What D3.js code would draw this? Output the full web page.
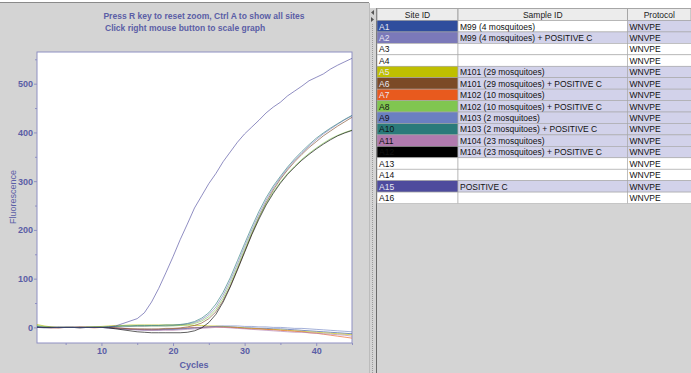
<!DOCTYPE html>
<html>
<head>
<meta charset="utf-8">
<script src="https://cdn.jsdelivr.net/npm/d3@7"></script>
<style>
  body { margin: 0; background: #fff; }
  svg { display: block; font-family: "Liberation Sans", Arial, sans-serif; }
</style>
</head>
<body>
<div id="chart"></div>
<script>
// amplification data
const cycles = [1,2,3,4,5,6,7,8,9,10,11,12,13,14,15,16,17,18,19,20,21,22,23,24,25,26,27,28,29,30,31,32,33,34,35,36,37,38,39,40,41,42,43,44,45];

const siteIds = ["A1","A2","A3","A4","A5","A6","A7","A8","A9","A10","A11","A12","A13","A14","A15","A16"];
const sampleIds = ["M99 (4 mosquitoes)", "M99 (4 mosquitoes) + POSITIVE C", "", "",
  "M101 (29 mosquitoes)", "M101 (29 mosquitoes) + POSITIVE C", "M102 (10 mosquitoes)",
  "M102 (10 mosquitoes) + POSITIVE C", "M103 (2 mosquitoes)", "M103 (2 mosquitoes) + POSITIVE C",
  "M104 (23 mosquitoes)", "M104 (23 mosquitoes) + POSITIVE C", "", "", "POSITIVE C", ""];
const protocols = ["WNVPE","WNVPE","WNVPE","WNVPE","WNVPE","WNVPE","WNVPE","WNVPE","WNVPE","WNVPE","WNVPE","WNVPE","WNVPE","WNVPE","WNVPE","WNVPE"];
const siteColors = ["#2f4d9d","#7b79b9","#ffffff","#ffffff","#bfbf00","#7b4a26","#e85a1e","#80c650","#6b7fc1","#2a7a7a","#b07aae","#000000","#ffffff","#ffffff","#4e4b9d","#ffffff"];

// fluorescence per cycle, one array per well (wells without sample draw nothing)
const fluor = {
  A1:  [1,0,0,-1,0,0,-1,0,0,0,-1,-2,-3,-4,-4,-5,-5,-5,-4,-4,-3,-2,-1,0,1,2,2,1,0,-1,-1,-2,-2,-3,-3,-4,-5,-6,-7,-8,-9,-10,-11,-12,-13],
  A5:  [6,3,1,0,0,0,0,1,1,2,3,4,4,5,5,5,5,5,5,5,5,5,4,4,3,3,2,1,0,-1,-2,-3,-4,-4,-5,-6,-7,-8,-9,-10,-11,-12,-13,-14,-15],
  A7:  [0,0,-1,-1,0,0,1,0,-1,0,0,-1,-2,-3,-4,-4,-5,-4,-4,-3,-2,-1,0,0,1,1,0,0,-1,-2,-3,-3,-4,-5,-6,-7,-8,-9,-11,-12,-14,-16,-18,-20,-22],
  A9:  [1,0,0,0,0,0,0,0,0,0,-1,-2,-3,-4,-5,-5,-5,-5,-4,-4,-3,-2,-1,0,1,2,3,3,3,2,2,1,1,0,0,-1,-2,-2,-3,-4,-5,-6,-7,-8,-9],
  A11: [0,0,0,0,0,0,0,0,0,0,-1,-2,-3,-4,-5,-6,-6,-6,-6,-6,-5,-4,-3,-2,-1,0,0,-1,-2,-3,-4,-5,-6,-7,-8,-9,-10,-10,-11,-12,-13,-14,-15,-16,-18],
  A2:  [0,0,0,0,0,0,0,0,0,0,0,1,1,2,2,2,3,3,3,4,5,7,10,16,26,42,66,96,130,166,200,232,261,286,307,326,343,358,372,385,397,407,417,426,434],
  A6:  [0,0,0,0,0,0,-1,0,0,0,0,-1,-2,-3,-3,-3,-3,-3,-2,-2,-1,1,4,9,18,32,55,85,120,156,192,226,256,282,304,323,340,355,369,381,393,403,413,422,431],
  A8:  [4,2,0,0,0,0,0,0,1,1,2,2,3,3,3,3,3,3,3,3,4,5,8,13,22,37,60,90,124,160,195,226,254,278,298,316,331,345,357,368,378,387,394,400,405],
  A10: [2,0,0,0,0,0,0,0,0,0,1,2,3,3,4,4,4,4,5,5,6,8,12,19,30,48,72,102,137,172,206,238,266,290,310,329,346,361,375,388,399,409,418,427,435],
  A12: [0,0,0,0,0,0,0,0,0,0,-1,-3,-5,-7,-9,-10,-11,-11,-11,-11,-11,-10,-7,-1,10,27,52,83,118,154,190,222,251,275,296,314,329,343,355,366,376,385,393,399,404],
  A15: [0,-1,-1,0,0,0,0,0,0,0,1,3,8,13,18,30,52,80,112,145,180,212,245,270,295,316,340,360,380,397,411,425,440,452,462,475,485,495,506,513,520,530,538,545,552]
};

const yMajor = [0,100,200,300,400,500];
const yMinor = [50,150,250,350,450,550];
const xMajor = [10,20,30,40];
const xMinor = [5,15,25,35,45];

const W = 691, H = 373;
const ink = "#5b5ea6";
const axisCol = "#8e8fc2";
const panelGray = "#d4d4d4";

var svg = d3.select("#chart")
  .append("svg")
    .attr("width", W)
    .attr("height", H);

// ---- left panel ----
svg.append("rect").attr("x", 0).attr("y", 0).attr("width", W).attr("height", H).attr("fill", "#fff");
svg.append("rect").attr("x", 0).attr("y", 3).attr("width", 369).attr("height", H - 3).attr("fill", panelGray);
svg.append("line").attr("x1", 0).attr("x2", 369).attr("y1", 2.5).attr("y2", 2.5)
  .attr("stroke", "#8a8a8a").attr("stroke-width", 1);

svg.append("text")
  .attr("x", 204).attr("y", 18.5)
  .attr("text-anchor", "middle")
  .style("font-size", "8.5px").style("font-weight", "bold")
  .attr("fill", ink)
  .text("Press R key to reset zoom, Ctrl A to show all sites");
svg.append("text")
  .attr("x", 105).attr("y", 31)
  .style("font-size", "8.5px").style("font-weight", "bold")
  .attr("fill", ink)
  .text("Click right mouse button to scale graph");

var plot = {left: 37, top: 52, right: 352, bottom: 343};

var x = d3.scaleLinear()
  .domain([1, 45])
  .range([plot.left, plot.right]);
var y = d3.scaleLinear()
  .domain([-32, 565])
  .range([plot.bottom, plot.top]);

svg.append("rect")
  .attr("x", plot.left).attr("y", plot.top)
  .attr("width", plot.right - plot.left).attr("height", plot.bottom - plot.top)
  .attr("fill", "#fff").attr("stroke", axisCol).attr("stroke-width", 1);

svg.append("clipPath").attr("id", "clip")
  .append("rect")
  .attr("x", plot.left).attr("y", plot.top)
  .attr("width", plot.right - plot.left).attr("height", plot.bottom - plot.top);

var line = d3.line()
  .x(function(d, i) { return x(cycles[i]); })
  .y(function(d) { return y(d); });

var lineGroup = svg.append("g").attr("clip-path", "url(#clip)");
Object.keys(fluor).forEach(function(id) {
  var idx = siteIds.indexOf(id);
  lineGroup.append("path")
    .datum(fluor[id])
    .attr("fill", "none")
    .attr("stroke", siteColors[idx])
    .attr("stroke-width", 0.9)
    .attr("stroke-opacity", 0.7)
    .attr("d", line);
});

// axes
var yAxis = svg.append("g")
  .attr("transform", "translate(" + plot.left + ",0)")
  .call(d3.axisLeft(y).tickValues(yMajor).tickSize(3).tickPadding(1));
var yAxisMinor = svg.append("g")
  .attr("transform", "translate(" + plot.left + ",0)")
  .call(d3.axisLeft(y).tickValues(yMinor).tickSize(2).tickFormat(""));
var xAxis = svg.append("g")
  .attr("transform", "translate(0," + plot.bottom + ")")
  .call(d3.axisBottom(x).tickValues(xMajor).tickSize(3).tickPadding(2));
var xAxisMinor = svg.append("g")
  .attr("transform", "translate(0," + plot.bottom + ")")
  .call(d3.axisBottom(x).tickValues(xMinor).tickSize(2).tickFormat(""));

[yAxis, yAxisMinor, xAxis, xAxisMinor].forEach(function(g) {
  g.select(".domain").remove();
  g.selectAll("line").attr("stroke", axisCol);
  g.selectAll("text")
    .attr("fill", ink)
    .style("font-size", "9px")
    .style("font-weight", "bold")
    .style("font-family", "\"Liberation Sans\", Arial, sans-serif");
});

svg.append("text")
  .attr("x", 194).attr("y", 368)
  .attr("text-anchor", "middle")
  .style("font-size", "9px").style("font-weight", "bold")
  .attr("fill", ink)
  .text("Cycles");

svg.append("text")
  .attr("transform", "translate(16,197) rotate(-90)")
  .attr("text-anchor", "middle")
  .style("font-size", "9px")
  .attr("fill", ink)
  .text("Fluorescence");

// ---- splitter ----
svg.append("rect").attr("x", 369).attr("y", 8).attr("width", 7).attr("height", H - 8).attr("fill", panelGray);
svg.append("line").attr("x1", 369.5).attr("x2", 369.5).attr("y1", 3).attr("y2", H)
  .attr("stroke", "#bcbcbc");
svg.append("line").attr("x1", 372.5).attr("x2", 372.5).attr("y1", 24).attr("y2", H)
  .attr("stroke", "#9a9a9a").attr("stroke-dasharray", "1,1");
svg.append("path").attr("d", "M374,10 L371,12.5 L374,15 Z").attr("fill", "#555");
svg.append("path").attr("d", "M371,17 L374,19.5 L371,22 Z").attr("fill", "#555");
svg.append("line").attr("x1", 376.5).attr("x2", 376.5).attr("y1", 8).attr("y2", H)
  .attr("stroke", "#6a6a6a");

// ---- table ----
var cols = [
  {title: "Site ID", x0: 377, x1: 458},
  {title: "Sample ID", x0: 458, x1: 627.5},
  {title: "Protocol", x0: 627.5, x1: 691}
];
var headTop = 8.5, headH = 12, rowH = 11.44;
var tableTop = headTop + headH;
var lav = "#d2d2ea";
var grid = "#a6a6a6";

svg.append("rect").attr("x", 377).attr("y", tableTop + rowH * siteIds.length)
  .attr("width", W - 377).attr("height", H).attr("fill", panelGray);

var header = svg.append("g");
header.selectAll("rect").data(cols).enter().append("rect")
  .attr("x", function(d) { return d.x0; }).attr("y", headTop)
  .attr("width", function(d) { return d.x1 - d.x0; }).attr("height", headH)
  .attr("fill", "#ececec").attr("stroke", grid);
header.selectAll("text").data(cols).enter().append("text")
  .attr("x", function(d) { return (d.x0 + d.x1) / 2; }).attr("y", headTop + 9)
  .attr("text-anchor", "middle")
  .style("font-size", "8.5px")
  .attr("fill", "#222")
  .text(function(d) { return d.title; });

var rows = svg.append("g").selectAll("g")
  .data(siteIds)
  .enter()
  .append("g")
  .attr("transform", function(d, i) { return "translate(0," + (tableTop + i * rowH) + ")"; });

rows.append("rect")
  .attr("x", cols[0].x0).attr("width", cols[0].x1 - cols[0].x0).attr("height", rowH)
  .attr("fill", function(d, i) { return siteColors[i]; })
  .attr("stroke", grid).attr("stroke-width", 0.6);
rows.append("rect")
  .attr("x", cols[1].x0).attr("width", cols[1].x1 - cols[1].x0).attr("height", rowH)
  .attr("fill", function(d, i) { return (sampleIds[i] && i !== 0) ? lav : "#fff"; })
  .attr("stroke", grid).attr("stroke-width", 0.6);
rows.append("rect")
  .attr("x", cols[2].x0).attr("width", cols[2].x1 - cols[2].x0 + 2).attr("height", rowH)
  .attr("fill", function(d, i) { return sampleIds[i] ? lav : "#fff"; })
  .attr("stroke", grid).attr("stroke-width", 0.6);

var darkCells = ["A1","A2","A5","A6","A7","A15"];
rows.append("text")
  .attr("x", cols[0].x0 + 2).attr("y", 9)
  .style("font-size", "8.5px")
  .attr("fill", function(d) { return darkCells.indexOf(d) >= 0 ? "#e8e8f4" : "#111"; })
  .text(function(d) { return d; });
rows.append("text")
  .attr("x", cols[1].x0 + 2).attr("y", 9)
  .style("font-size", "8.5px")
  .attr("fill", "#111")
  .text(function(d, i) { return sampleIds[i]; });
rows.append("text")
  .attr("x", cols[2].x0 + 2).attr("y", 9)
  .style("font-size", "8.5px")
  .attr("fill", "#111")
  .text(function(d, i) { return protocols[i]; });
</script>
</body>
</html>
